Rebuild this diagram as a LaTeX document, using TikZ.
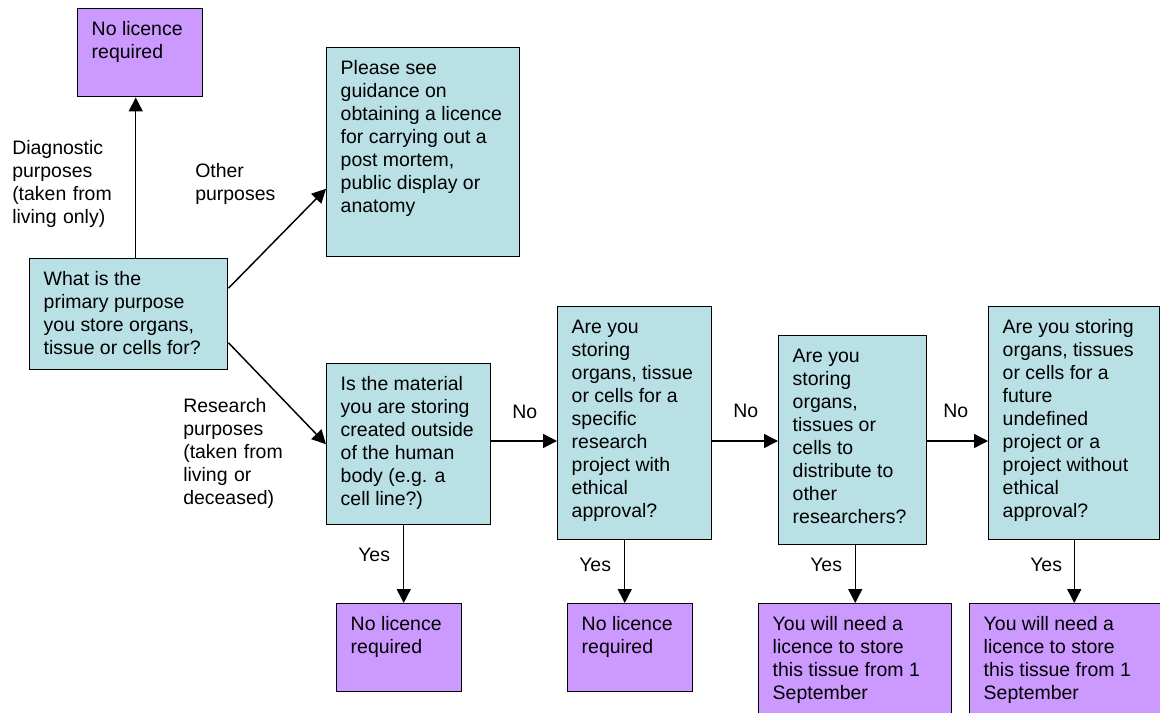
\documentclass[tikz,border=0pt]{standalone}
\usepackage{fontspec}
\setmainfont{Liberation Sans}
\usetikzlibrary{arrows.meta}
\definecolor{qfill}{RGB}{185,224,228}
\definecolor{pfill}{RGB}{204,153,255}
\newdimen\pxu \pxu=0.75pt
\newcommand\bt[3]{\parbox[t][#2\pxu][t]{#1\pxu}{\raggedright\setlength\leftskip{10.5pt}\rightskip=-40pt plus 1fil\parskip=0pt\vspace*{8.2pt}\strut #3}}
\tikzset{
  qbox/.style={draw=black, line width=1.1pt, fill=qfill, anchor=north west, inner sep=0pt},
  pbox/.style={draw=black, line width=1.1pt, fill=pfill, anchor=north west, inner sep=0pt},
  lab/.style={anchor=north west, inner sep=0pt, text width=150pt, align=left},
  arr/.style={line width=1.1pt, -{Triangle[length=10.5pt,width=10.5pt]}},
}
\begin{document}
\begin{tikzpicture}[x=0.75pt, y=-0.75pt, font=\fontsize{14.6}{17.25}\selectfont]
\useasboundingbox (0,0) rectangle (1160,713);
\clip (0,0) rectangle (1160,713);
\fill[white] (0,0) rectangle (1160,713);

\node[pbox] (ntop) at (77,8) {\bt{125}{88}{No licence\\required}};
\node[qbox] (guide) at (326,47) {\bt{193}{209}{Please see\\guidance on\\obtaining a licence\\for carrying out a\\post mortem,\\public display or\\anatomy}};
\node[qbox] (start) at (29,258) {\bt{198}{111}{What is the\\primary purpose\\you store organs,\\tissue or cells for?}};
\node[qbox] (q1) at (326,363) {\bt{164}{161}{Is the material\\you are storing\\created outside\\of the human\\body (e.g. a\\cell line?)}};
\node[qbox] (q2) at (557,306) {\bt{154}{233}{Are you\\storing\\organs, tissue\\or cells for a\\specific\\research\\project with\\ethical\\approval?}};
\node[qbox] (q3) at (778,335) {\bt{148}{209}{Are you\\storing\\organs,\\tissues or\\cells to\\distribute to\\other\\researchers?}};
\node[qbox] (q4) at (988,306) {\bt{171}{233}{Are you storing\\organs, tissues\\or cells for a\\future\\undefined\\project or a\\project without\\ethical\\approval?}};
\node[pbox] (p2) at (336,603) {\bt{125}{88}{No licence\\required}};
\node[pbox] (p3) at (567,603) {\bt{125}{88}{No licence\\required}};
\node[pbox] (p4) at (758,603) {\bt{193}{130}{You will need a\\licence to store\\this tissue from 1\\September}};
\node[pbox] (p5) at (969,603) {\bt{200}{130}{You will need a\\licence to store\\this tissue from 1\\September}};

\node[lab] (ldiag) at (12,138) {\strut Diagnostic\\purposes\\(taken from\\living only)};
\node[lab] (lother) at (195,161) {\strut Other\\purposes};
\node[lab] (lres) at (183,396) {\strut Research\\purposes\\(taken from\\living or\\deceased)};
\node[lab] (lno1) at (512,402) {\strut No};
\node[lab] (lno2) at (733,401) {\strut No};
\node[lab] (lno3) at (943,401) {\strut No};
\node[lab] (lyes1) at (358,545) {\strut Yes};
\node[lab] (lyes2) at (579,555) {\strut Yes};
\node[lab] (lyes3) at (810,555) {\strut Yes};
\node[lab] (lyes4) at (1030,555) {\strut Yes};

\coordinate (row) at (0,441);
\draw[arr] ([xshift=5.25pt]start.north) -- ([xshift=5.25pt]start.north |- ntop.south);
\draw[arr] ([yshift=19.5pt]start.east) -- ([yshift=-27.4pt]guide.west);
\draw[arr] ([yshift=-21.4pt]start.east) -- (q1.west);
\draw[arr] (q1.east |- row) -- (q2.west |- row);
\draw[arr] (q2.east |- row) -- (q3.west |- row);
\draw[arr] (q3.east |- row) -- (q4.west |- row);
\draw[arr] ([xshift=-3.75pt]q1.south) -- ([xshift=-3.75pt]q1.south |- p2.north);
\draw[arr] ([xshift=-7.5pt]q2.south) -- ([xshift=-7.5pt]q2.south |- p3.north);
\draw[arr] (q3.south -| p4.north) -- (p4.north);
\draw[arr] (q4.south) -- (q4.south |- p5.north);
\end{tikzpicture}
\end{document}
